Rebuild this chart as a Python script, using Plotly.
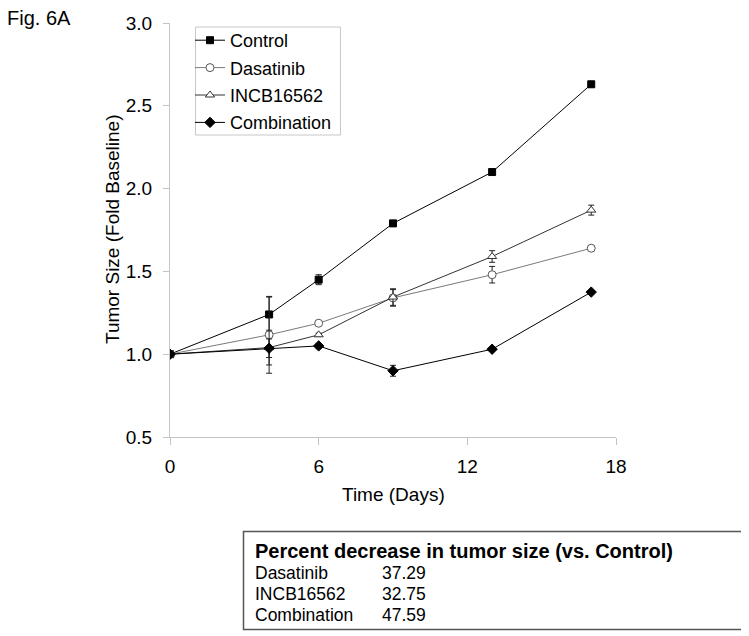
import plotly.graph_objects as go

days = [0, 4, 6, 9, 13, 17]
control = [1.0, 1.24, 1.45, 1.79, 2.10, 2.63]
control_err = [0.01, 0.105, 0.03, 0.015, 0.01, 0.015]
dasatinib = [1.0, 1.117, 1.187, 1.34, 1.48, 1.64]
dasatinib_err = [0.01, 0.232, 0.01, 0.05, 0.05, 0.015]
incb = [1.0, 1.04, 1.117, 1.345, 1.59, 1.87]
incb_err = [0.01, 0.105, 0.01, 0.05, 0.035, 0.03]
combination = [1.0, 1.036, 1.05, 0.90, 1.03, 1.375]
combination_err = [0.01, 0.056, 0.015, 0.033, 0.012, 0.01]

table_title = "Percent decrease in tumor size (vs. Control)"
table_names = ["Dasatinib", "INCB16562", "Combination"]
table_values = ["37.29", "32.75", "47.59"]

FONT = "Liberation Sans, Arial, sans-serif"

OFF = 8  # page body margin
W, H = 749 - OFF, 636 - OFF
# plot area in page pixels: x 170..616, y 22.7..436.7
L = 170 - OFF
T = 23 - OFF
PW = 446
PH = 414
R = W - L - PW
B = H - T - PH


def px(x):
    return (x - OFF - L) / PW


def py(y):
    return (T + PH - (y - OFF)) / PH


fig = go.Figure()

series = [
    ("Control", control, control_err, "square", "black", "black", "black", 7),
    ("Dasatinib", dasatinib, dasatinib_err, "circle", "white", "#555555", "#7a7a7a", 8),
    ("INCB16562", incb, incb_err, "triangle-up", "white", "#333333", "#333333", 8),
    ("Combination", combination, combination_err, "diamond", "black", "black", "black", 8),
]
for i, (name, vals, err, sym, fill, edge, lcol, size) in enumerate(series):
    fig.add_trace(go.Scatter(
        x=days, y=vals, name=name, mode="lines+markers",
        legendgroup=f"g{i}",
        line=dict(color=lcol, width=1),
        marker=dict(symbol=sym, size=size, color=fill, line=dict(color=edge, width=1)),
        error_y=dict(type="data", array=err, visible=True, color="#222222", thickness=1, width=3),
    ))

axis_col = "#c4c4c4"
fig.update_xaxes(
    range=[0, 18], tickvals=[0, 6, 12, 18], showgrid=False, zeroline=False,
    showline=True, linecolor=axis_col, linewidth=1,
    ticks="outside", ticklen=7, tickcolor=axis_col, tickwidth=1,
    tickfont=dict(family=FONT, size=19, color="black"), ticklabelstandoff=5,
)
fig.update_yaxes(
    range=[0.5, 3.0], tickvals=[0.5, 1.0, 1.5, 2.0, 2.5, 3.0],
    ticktext=["0.5", "1.0", "1.5", "2.0", "2.5", "3.0"],
    showgrid=False, zeroline=False,
    showline=True, linecolor=axis_col, linewidth=1,
    ticks="outside", ticklen=6, tickcolor=axis_col, tickwidth=1,
    tickfont=dict(family=FONT, size=19, color="black"), ticklabelstandoff=7,
)

annotations = [
    dict(text="Fig. 6A", x=px(5), y=py(18), xanchor="left", yanchor="middle",
         font=dict(family=FONT, size=20, color="black")),
    dict(text="Time (Days)", x=px(393), y=py(494), xanchor="center", yanchor="middle",
         font=dict(family=FONT, size=19, color="black")),
    dict(text="Tumor Size (Fold Baseline)", x=px(112), y=py(230), xanchor="center",
         yanchor="middle", textangle=-90, font=dict(family=FONT, size=19, color="black")),
    dict(text="<b>" + table_title + "</b>", x=px(253), y=py(551), xanchor="left",
         yanchor="middle", font=dict(family=FONT, size=20, color="black")),
]
row_y = [573, 594, 615]
for name, val, yy in zip(table_names, table_values, row_y):
    annotations.append(dict(text=name, x=px(253), y=py(yy), xanchor="left", yanchor="middle",
                            font=dict(family=FONT, size=17.5, color="black")))
    annotations.append(dict(text=val, x=px(380), y=py(yy), xanchor="left", yanchor="middle",
                            font=dict(family=FONT, size=17.5, color="black")))
for a in annotations:
    a.update(xref="paper", yref="paper", showarrow=False)

fig.update_layout(
    width=W, height=H,
    margin=dict(l=L, r=R, t=T, b=B, autoexpand=False),
    paper_bgcolor="white", plot_bgcolor="white",
    showlegend=True,
    legend=dict(
        x=px(190), y=py(22), xanchor="left", yanchor="top",
        bgcolor="rgba(0,0,0,0)", borderwidth=0,
        font=dict(family=FONT, size=18, color="black"),
        traceorder="grouped", tracegroupgap=1, itemwidth=30,
    ),
    annotations=annotations,
    shapes=[
        dict(type="rect", xref="paper", yref="paper", layer="above",
             x0=px(195.5), x1=px(340.5), y0=py(27), y1=py(135),
             line=dict(color="#c8c8c8", width=1), fillcolor="white"),
        dict(type="rect", xref="paper", yref="paper",
             x0=px(243.5), x1=px(743), y0=py(531.5), y1=py(629.5),
             line=dict(color="#555555", width=1.5), fillcolor="rgba(0,0,0,0)"),
    ],
)

fig.write_html("out.html")
